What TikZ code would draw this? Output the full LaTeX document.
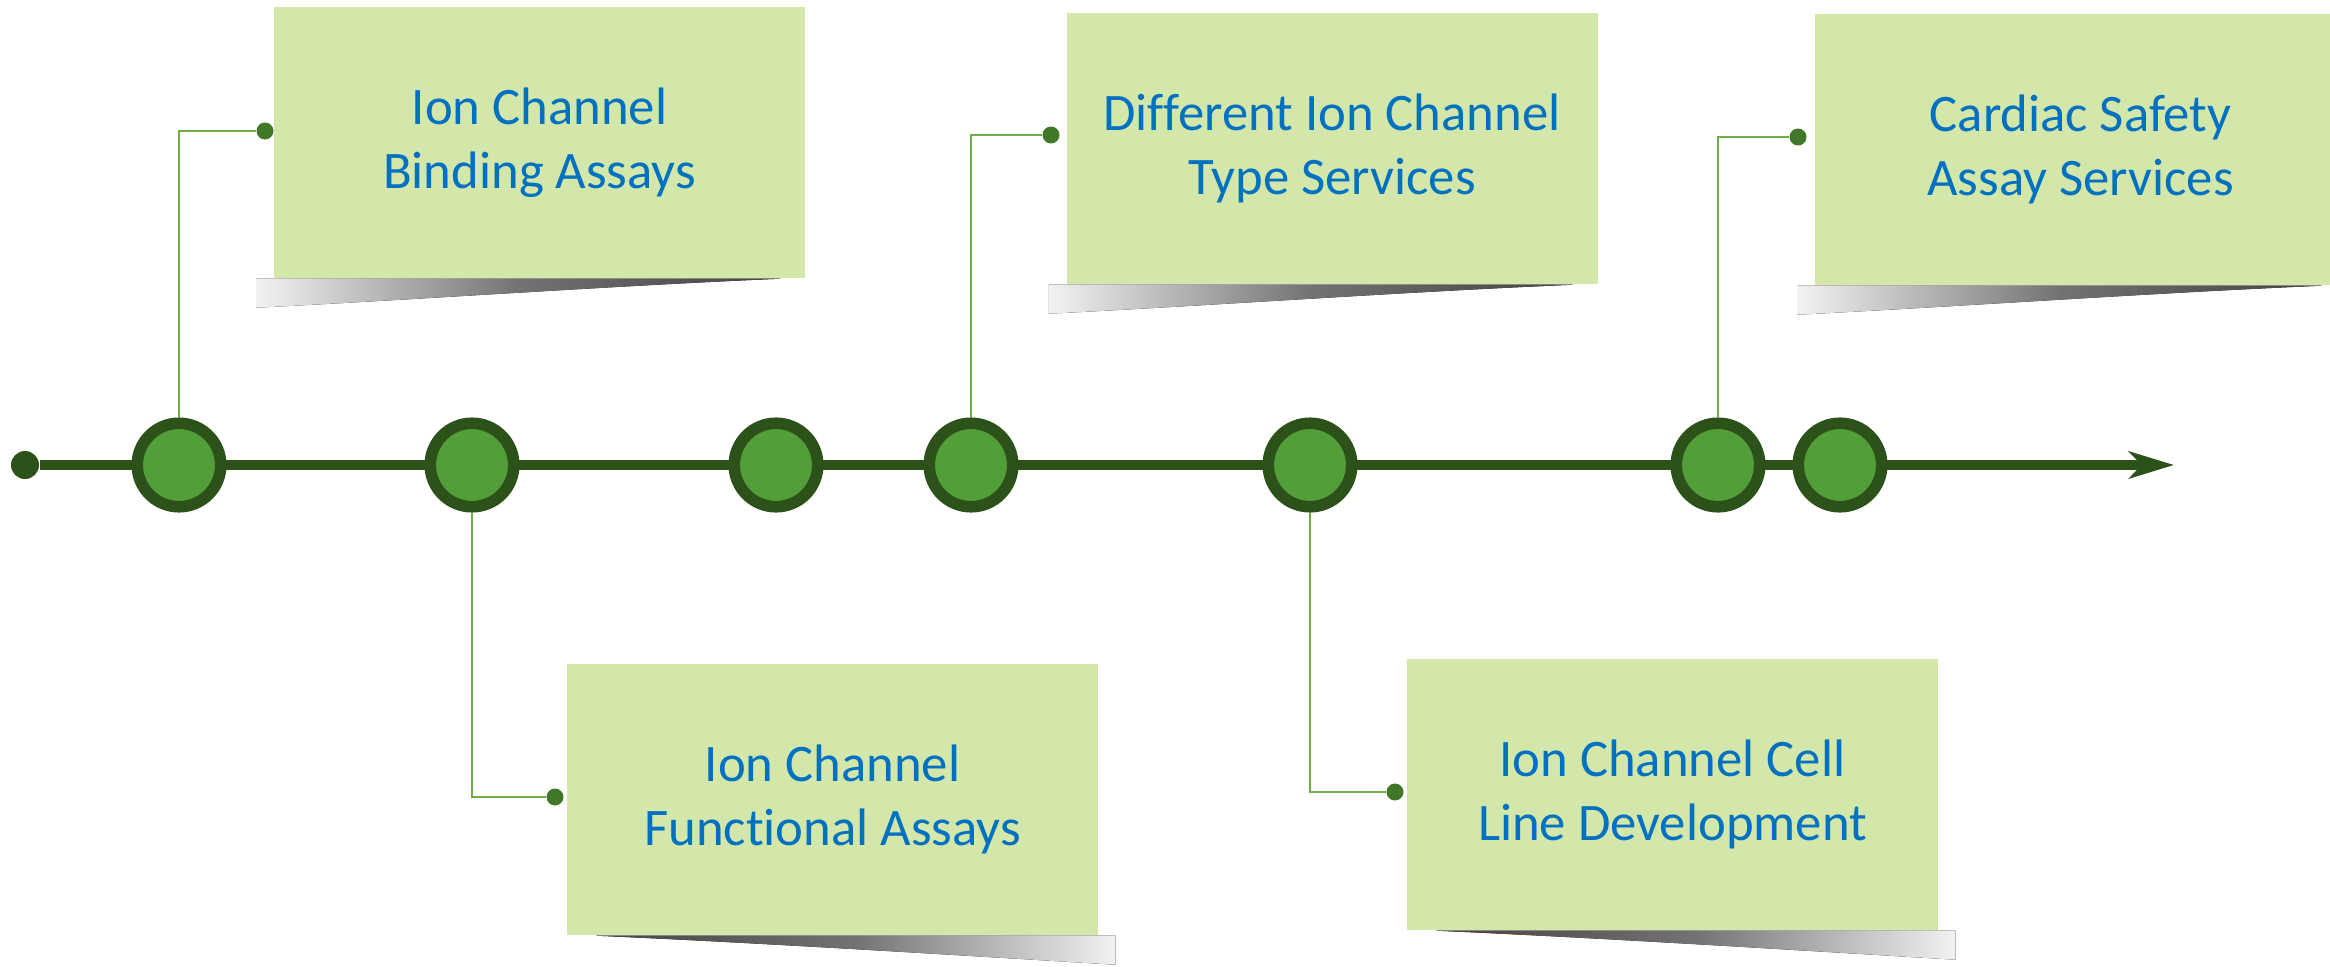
\documentclass[tikz,border=0pt]{standalone}
\usepackage{fontspec}
\setmainfont{Carlito}[Ligatures=CommonOff]
\usetikzlibrary{arrows.meta,calc,backgrounds}

\definecolor{ringgreen}{RGB}{44,81,25}
\definecolor{stopgreen}{RGB}{82,158,56}
\definecolor{linkgreen}{RGB}{112,173,71}
\definecolor{dotgreen}{RGB}{64,120,40}
\definecolor{boxgreen}{RGB}{210,231,169}
\definecolor{txtblue}{RGB}{0,112,192}
\definecolor{shadowdark}{RGB}{70,66,62}

\begin{document}
\begin{tikzpicture}[
  milestone/.style={circle, draw=ringgreen, fill=stopgreen, line width=3.3pt, minimum size=0.835cm, inner sep=0},
  card/.style={fill=boxgreen, minimum width=5.31cm, minimum height=2.71cm, inner sep=0, align=center,
    text=txtblue, font=\fontsize{15}{18.2}\selectfont},
  enddot/.style={circle, fill=dotgreen, minimum size=0.17cm, inner sep=0},
  leader/.style={draw=linkgreen, line width=0.6pt},
  shadeup/.style={left color=black!5, right color=shadowdark, middle color=black!55},
  shadedown/.style={left color=shadowdark, right color=black!5, middle color=black!55}]
\useasboundingbox (0,0) rectangle (23.30,9.66);

\node[card] (b1) at (5.395,8.235) {Ion Channel\\Binding Assays};
\node[card] (b2) at (8.325,1.665) {Ion Channel\\Functional Assays};
\node[card] (b3) at (13.32,8.175) {Different Ion Channel\\Type Services};
\node[card] (b4) at (20.805,8.165) {Cardiac Safety\\Assay Services};
\node[card] (b5) at (16.725,1.715) {Ion Channel Cell\\Line Development};

% curled shadows under the cards
\begin{scope}[on background layer]
\foreach \b in {b1,b3,b4}
  \fill[shadeup] ($(\b.south west)+(-0.17,0)$) -- ($(\b.south east)+(-0.25,0)$)
    .. controls ($(\b.south east)+(-1.9,-0.07)$) and ($(\b.south west)+(1.6,-0.2)$) .. ($(\b.south west)+(-0.17,-0.29)$) -- cycle;
\foreach \b in {b2,b5}
  \fill[shadedown] ($(\b.south west)+(0.30,0)$) -- ($(\b.south east)+(0.17,0)$) -- ($(\b.south east)+(0.17,-0.29)$)
    .. controls ($(\b.south east)+(-1.5,-0.19)$) and ($(\b.south west)+(1.9,-0.07)$) .. ($(\b.south west)+(0.30,0)$) -- cycle;
\end{scope}

\node[circle, fill=ringgreen, minimum size=0.28cm, inner sep=0] (s) at (0.25,5.01) {};
\coordinate (e) at (21.74,5.01);
\draw[ringgreen, line width=2.6pt, -{Stealth[length=0.45cm, width=0.27cm, inset=0.13cm]}] (s) -- (e);

\node[milestone] (c1) at (1.79,5.01) {};
\node[milestone] (c2) at (4.72,5.01) {};
\node[milestone] (c3) at (7.76,5.01) {};
\node[milestone] (c4) at (9.71,5.01) {};
\node[milestone] (c5) at (13.10,5.01) {};
\node[milestone] (c6) at (17.18,5.01) {};
\node[milestone] (c7) at (18.40,5.01) {};

\node[enddot] (d1) at (2.65,8.35) {};
\node[enddot] (d2) at (5.55,1.69) {};
\node[enddot] (d3) at (10.51,8.31) {};
\node[enddot] (d4) at (13.95,1.74) {};
\node[enddot] (d5) at (17.98,8.29) {};

\draw[leader] (c1) |- (d1);
\draw[leader] (c2) |- (d2);
\draw[leader] (c4) |- (d3);
\draw[leader] (c5) |- (d4);
\draw[leader] (c6) |- (d5);
\end{tikzpicture}
\end{document}
